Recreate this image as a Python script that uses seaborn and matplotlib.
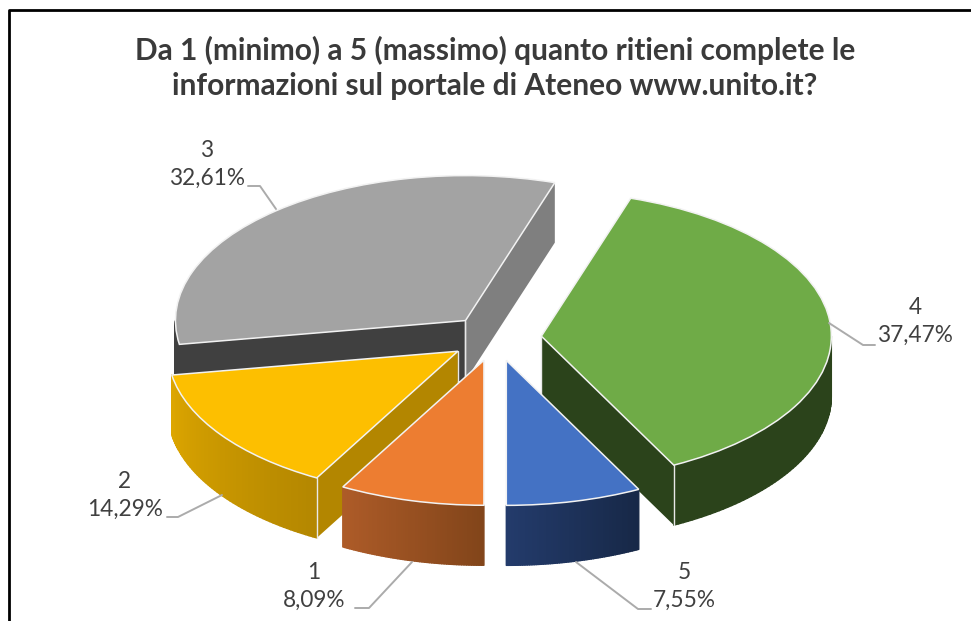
import numpy as np
import matplotlib
matplotlib.use('Agg')
import matplotlib.pyplot as plt
import seaborn as sns
from matplotlib.collections import PolyCollection

title = 'Da 1 (minimo) a 5 (massimo) quanto ritieni complete le\ninformazioni sul portale di Ateneo www.unito.it?'
categories = ['1', '2', '3', '4', '5']
values = [8.09, 14.29, 32.61, 37.47, 7.55]
pct_labels = ['8,09%', '14,29%', '32,61%', '37,47%', '7,55%']
top_colors = ['#ED7D31', '#FDBF00', '#A3A3A3', '#6FAB47', '#4472C4']
# outer wall gradient, left to right
wall_colors = [('#AD5B28', '#82451A'), ('#DDA600', '#B48700'), ('#404040', '#404040'),
               ('#2B431B', '#2B431B'), ('#233B6B', '#172847')]
# cut faces: start edge / end edge, None when not visible
cut_start = [None, '#B38600', '#404040', None, None]
cut_end = [None, None, '#7F7F7F', '#2B431B', None]
draw_order = [2, 3, 1, 0, 4]

W, H = 971, 621
CX, CY = 495.5, 338
RX, RY = 290, 145
DEPTH = 60 / RY
EXPLODE = 46 / RX

sns.set_theme(style='white')
plt.rcParams['font.family'] = ['Lato', 'DejaVu Sans']

fig = plt.figure(figsize=(W / 100, H / 100), dpi=100)
ax = fig.add_axes([0, 0, 1, 1])

# pie goes clockwise from the bottom, like the original
wedges, _ = ax.pie(values, colors=top_colors, startangle=270, counterclock=False,
                   explode=[EXPLODE] * 5, normalize=True,
                   wedgeprops=dict(edgecolor='#F2F2F2', linewidth=1.1))
ax.set_aspect('auto')
ax.set_xlim((0 - CX) / RX, (W - CX) / RX)
ax.set_ylim((CY - H) / RY, CY / RY)
ax.axis('off')


def px(x, y):
    return (x - CX) / RX, (CY - y) / RY


cum = np.concatenate([[0], np.cumsum(values)]) / sum(values) * 360
z = 2
for i in draw_order:
    a0, a1 = 180 + cum[i], 180 + cum[i + 1]
    if a0 >= 360:
        a0, a1 = a0 - 360, a1 - 360
    mid = np.radians((a0 + a1) / 2)
    ox, oy = EXPLODE * np.sin(mid), EXPLODE * np.cos(mid)
    for ang, col in ((a0, cut_start[i]), (a1, cut_end[i])):
        if col is None:
            continue
        r = np.radians(ang)
        ex, ey = ox + np.sin(r), oy + np.cos(r)
        poly = [(ox, oy), (ex, ey), (ex, ey - DEPTH), (ox, oy - DEPTH)]
        ax.fill(*zip(*poly), color=col, lw=0, zorder=z)
        ax.plot([ox, ox], [oy, oy - DEPTH], color='#E8E8E8', lw=1, zorder=z + 0.1)
    # outer wall, only the front half of the rim shows
    lo, hi = max(a0, 90), min(a1, 270)
    if hi > lo:
        angs = np.radians(np.linspace(lo, hi, 60))
        xs, ys = ox + np.sin(angs), oy + np.cos(angs)
        quads = [[(xs[k], ys[k]), (xs[k + 1], ys[k + 1]),
                  (xs[k + 1], ys[k + 1] - DEPTH), (xs[k], ys[k] - DEPTH)] for k in range(59)]
        pal = sns.blend_palette(wall_colors[i], 59)
        # palette runs left to right on screen
        order = np.argsort(np.argsort(xs[:-1]))
        cols = [pal[o] for o in order]
        ax.add_collection(PolyCollection(quads, facecolors=cols, edgecolors='face',
                                         linewidths=1.0, zorder=z + 0.2))
    # white edge where the wall meets a cut face
    for ang, col in ((a0, cut_start[i]), (a1, cut_end[i])):
        if col is not None and i != 2 and 90 < ang < 270:
            r = np.radians(ang)
            ex, ey = ox + np.sin(r), oy + np.cos(r)
            ax.plot([ex, ex], [ey, ey - DEPTH], color='#E8E8E8', lw=1, zorder=z + 0.5)
    wedges[i].set_zorder(z + 1)
    z += 2

# leader lines and labels
leaders = {
    0: [(355, 608), (369, 608), (412, 562)],
    1: [(167, 517), (178, 517), (222, 495)],
    2: [(248, 186), (260, 186), (276, 209)],
    3: [(875, 345), (863, 345), (829, 323)],
    4: [(651, 609), (638, 609), (576, 562)],
}
label_pos = [(314, 586), (125, 495), (207, 164), (915, 321), (684, 586)]
for i in range(5):
    xy = [px(*p) for p in leaders[i]]
    ax.plot(*zip(*xy), color='#ABABAB', lw=1.4, zorder=20)
    x, y = px(*label_pos[i])
    ax.text(x, y, categories[i] + '\n' + pct_labels[i], ha='center', va='center',
            fontsize=16.3, color='#404040', linespacing=1.4, zorder=21)

ax.text(*px(495, 68), title, ha='center', va='center', fontsize=21.5, fontweight='bold',
        color='#3A3A3A', linespacing=1.27, zorder=21)

# screenshot frame: top and left only
ax.plot(*zip(px(9, H), px(9, 10), px(W, 10)), color='black', lw=2, zorder=30)

fig.savefig('out.png', dpi=100)
